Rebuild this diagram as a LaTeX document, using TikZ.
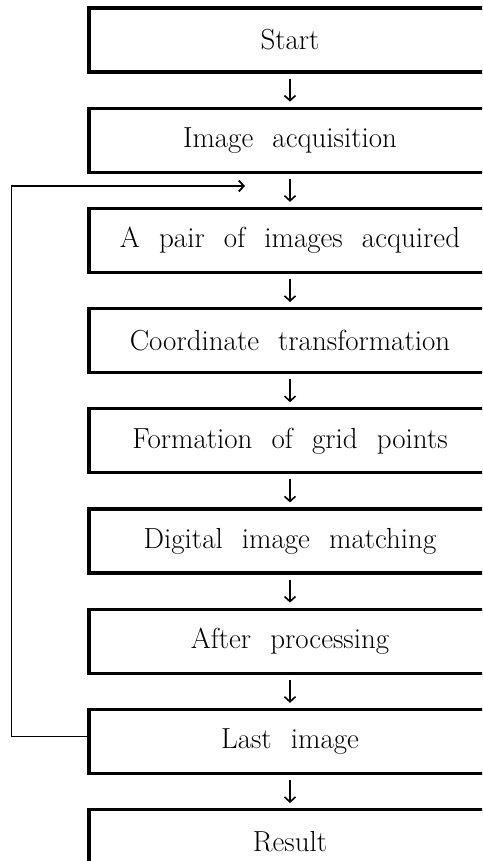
\documentclass[tikz,border=0pt]{standalone}
\usepackage{tikz}
\usetikzlibrary{positioning, arrows.meta}
\newcommand{\stepfont}{\fontsize{29}{33}\selectfont\spaceskip=0.66em plus 0pt minus 0pt\relax}

\begin{document}
\begin{tikzpicture}[x=1pt, y=-1pt, node distance=33pt,
    stepbox/.style={draw, line width=3.2pt, minimum width=402pt, minimum height=64pt,
        inner sep=0pt, font=\stepfont},
    flow/.style={-{Straight Barb[length=5pt, width=11pt]}, line width=1.6pt,
        shorten <=5pt, shorten >=5pt}]
    \useasboundingbox (0,0) rectangle (482,861);
    \clip (0,0) rectangle (482,861);

    % Define the step nodes
    \node (S1) [stepbox] at (290,40) {Start};
    \node (S2) [stepbox, below=of S1] {Image acquisition};
    \node (S3) [stepbox, below=of S2] {A pair of images acquired};
    \node (S4) [stepbox, below=of S3] {Coordinate transformation};
    \node (S5) [stepbox, below=of S4] {Formation of grid points};
    \node (S6) [stepbox, below=of S5] {Digital image matching};
    \node (S7) [stepbox, below=of S6] {After processing};
    \node (S8) [stepbox, below=of S7] {Last image};
    \node (S9) [stepbox, below=of S8] {Result};
    \coordinate (loopin) at (245,186);  % end of the loop back

    % Define arrows between the steps
    \draw[flow] (S1) -- (S2);
    \draw[flow] (S2) -- (S3);
    \draw[flow] (S3) -- (S4);
    \draw[flow] (S4) -- (S5);
    \draw[flow] (S5) -- (S6);
    \draw[flow] (S6) -- (S7);
    \draw[flow] (S7) -- (S8);
    \draw[flow] (S8) -- (S9);

    % Loop back to the next pair of images
    \draw[-{Straight Barb[length=5pt, width=11pt]}, line width=1.8pt]
        ([yshift=5pt]S8.west) -- ++(-76,0) |- (loopin);
\end{tikzpicture}
\end{document}
